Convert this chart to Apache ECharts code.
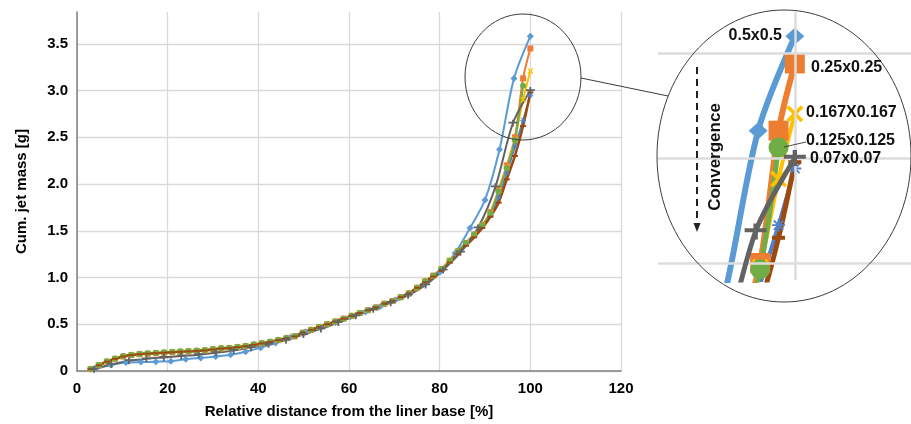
<!DOCTYPE html>
<html><head><meta charset="utf-8">
<script src="https://cdn.jsdelivr.net/npm/echarts@6/dist/echarts.min.js"></script>
<style>html,body{margin:0;padding:0;background:#fff}#c{width:911px;height:424px}</style>
</head><body><div id="c"></div>
<script>
// ---- data ----
const xFine = [3.0,4.8,6.6,8.4,10.2,12.0,13.8,15.6,17.4,19.2,21.0,22.8,24.6,26.4,28.2,30.0,31.8,33.6,35.4,37.2,39.0,40.8,42.6,44.4,46.2,48.0,49.8,51.6,53.4,55.2,57.0,58.8,60.6,62.4,64.2,66.0,67.8,69.6,71.4,73.2,75.0,76.8,78.6,80.4,82.2,84.0,85.8,87.6,89.4,91.2,93.0,94.8,96.6,98.4,100.0];
const xCoarse = [4.2,7.5,10.8,14.1,17.4,20.7,24.0,27.3,30.6,33.9,37.2,40.5,43.8,47.1,50.4,53.7,57.0,60.3,63.6,66.9,70.2,73.5,76.8,80.1,83.4,86.7,90.0,93.2,96.4,100.0];
const xGrey = [3.75,7.6,11.45,15.3,19.15,23.0,26.85,30.7,34.55,38.4,42.25,46.1,49.95,53.8,57.65,61.5,65.35,69.2,73.05,76.9,80.75,84.6,88.45,92.3,96.15,100.0];

const mesh05 = [0.03,0.065,0.09,0.095,0.10,0.105,0.125,0.14,0.155,0.175,0.205,0.25,0.30,0.36,0.42,0.47,0.52,0.58,0.63,0.69,0.76,0.83,0.93,1.06,1.26,1.53,1.83,2.37,3.13,3.58];
const mesh025 = [0.02,0.06,0.10,0.13,0.155,0.17,0.18,0.185,0.19,0.195,0.20,0.205,0.21,0.215,0.22,0.23,0.24,0.245,0.255,0.265,0.28,0.295,0.31,0.33,0.35,0.37,0.41,0.44,0.47,0.50,0.53,0.56,0.59,0.62,0.65,0.68,0.72,0.75,0.79,0.83,0.89,0.96,1.02,1.09,1.18,1.28,1.37,1.46,1.56,1.70,1.94,2.20,2.50,3.13,3.45];
const mesh0167 = [0.02,0.06,0.10,0.13,0.15,0.17,0.18,0.185,0.19,0.195,0.20,0.205,0.21,0.215,0.22,0.23,0.24,0.245,0.255,0.265,0.28,0.295,0.31,0.33,0.35,0.37,0.41,0.44,0.47,0.50,0.53,0.56,0.59,0.62,0.65,0.68,0.72,0.75,0.79,0.83,0.89,0.96,1.02,1.09,1.18,1.28,1.37,1.46,1.56,1.69,1.93,2.18,2.48,2.90,3.21];
const meshStar = [0.02,0.06,0.10,0.13,0.155,0.17,0.18,0.185,0.19,0.195,0.20,0.205,0.21,0.215,0.22,0.23,0.24,0.245,0.255,0.265,0.28,0.295,0.31,0.33,0.35,0.37,0.41,0.44,0.47,0.50,0.53,0.56,0.59,0.62,0.65,0.68,0.72,0.75,0.79,0.83,0.89,0.96,1.02,1.09,1.17,1.27,1.36,1.45,1.55,1.66,1.86,2.12,2.40,2.68,2.95];
const mesh0125 = [0.025,0.065,0.105,0.135,0.16,0.175,0.185,0.19,0.195,0.20,0.205,0.21,0.215,0.22,0.225,0.235,0.245,0.25,0.26,0.27,0.285,0.30,0.315,0.335,0.355,0.375,0.41,0.44,0.47,0.50,0.53,0.56,0.59,0.62,0.65,0.68,0.72,0.75,0.79,0.83,0.89,0.96,1.02,1.09,1.18,1.28,1.37,1.46,1.56,1.69,1.92,2.17,2.47,3.05];
const meshBrown = [0.02,0.06,0.10,0.13,0.155,0.17,0.18,0.185,0.19,0.195,0.20,0.205,0.21,0.215,0.22,0.23,0.24,0.245,0.255,0.265,0.28,0.295,0.31,0.33,0.35,0.37,0.41,0.44,0.47,0.50,0.53,0.56,0.59,0.62,0.65,0.68,0.72,0.75,0.79,0.83,0.89,0.95,1.01,1.07,1.16,1.25,1.34,1.43,1.53,1.65,1.80,2.05,2.30,2.62,2.98];
const mesh007 = [0.02,0.07,0.11,0.13,0.145,0.16,0.175,0.195,0.22,0.25,0.285,0.33,0.39,0.45,0.52,0.59,0.66,0.73,0.81,0.92,1.08,1.27,1.53,1.97,2.65,3.00];

const seriesNames = ['0.5x0.5','0.25x0.25','0.167X0.167','mesh (star)','0.125x0.125','mesh (dash)','0.07x0.07'];
const seriesColors = ['#5B9BD5','#ED7D31','#FFC000','#4F81C9','#70AD47','#9E480E','#636363'];

// ---- styles ----
const FONT = 'Liberation Sans, Arial, sans-serif';
const P_X = 'path://M0,1.5L1.5,0L5,3.5L8.5,0L10,1.5L6.5,5L10,8.5L8.5,10L5,6.5L1.5,10L0,8.5L3.5,5Z';
const P_PLUS = 'path://M0,3H4V0H6V3H10V5.5H6V10H4V5.5H0Z';
const P_STAR = 'path://M4.3,0H5.7V3.3L8.1,0.9L9.1,1.9L6.7,4.3H10V5.7H6.7L9.1,8.1L8.1,9.1L5.7,6.7V10H4.3V6.7L1.9,9.1L0.9,8.1L3.3,5.7H0V4.3H3.3L0.9,1.9L1.9,0.9L4.3,3.3Z';

const seriesDefs = [
  {x: xCoarse, y: mesh05,   sym: 'diamond', s: 7,      S: [19,17], lw: 2,   LW: 6},
  {x: xFine,   y: mesh025,  sym: 'rect',    s: 6,      S: 20,      lw: 2,   LW: 6},
  {x: xFine,   y: mesh0167, sym: P_X,       s: 6,      S: 17,      lw: 2,   LW: 4},
  {x: xFine,   y: meshStar, sym: P_STAR,    s: 6,      S: 13,      lw: 2,   LW: 4},
  {x: xFine,   y: mesh0125, sym: 'circle',  s: 6,      S: 20,      lw: 2,   LW: 5},
  {x: xFine,   y: meshBrown,sym: 'rect',    s: [6,2],  S: [13,4],  lw: 2.5, LW: 5},
  {x: xGrey,   y: mesh007,  sym: P_PLUS,    s: [9,7],  S: [22,16], lw: 2,   LW: 5}
];

const series = [];
seriesDefs.forEach((d, i) => {
  const data = d.y.map((v, k) => [d.x[k], v]);
  series.push({
    name: seriesNames[i], type: 'line', data: data, smooth: 0.3,
    symbol: d.sym, symbolSize: d.s, showAllSymbol: true,
    lineStyle: {color: seriesColors[i], width: d.lw},
    itemStyle: {color: seriesColors[i], borderWidth: 0},
    xAxisIndex: 0, yAxisIndex: 0, z: 3
  });
});
// inset gridlines
series.push({
  type: 'line', xAxisIndex: 1, yAxisIndex: 1, data: [[100, 3.0]], symbol: 'none',
  lineStyle: {opacity: 0}, z: 1, silent: true,
  markLine: {silent: true, symbol: 'none', label: {show: false}, animation: false,
    lineStyle: {color: '#dcdcdc', width: 2.5, type: 'solid'},
    data: [{xAxis: 100}, {yAxis: 2.5}, {yAxis: 3.0}, {yAxis: 3.5}]}
});
seriesDefs.forEach((d, i) => {
  const data = d.y.map((v, k) => [d.x[k], v]);
  series.push({
    name: seriesNames[i] + ' (zoom)', type: 'line', data: data, smooth: 0.3, clip: true,
    symbol: d.sym, symbolSize: d.S, showAllSymbol: true,
    lineStyle: {color: seriesColors[i], width: d.LW},
    itemStyle: {color: seriesColors[i], borderWidth: 0},
    xAxisIndex: 1, yAxisIndex: 1, z: i === 6 ? 5 : 3
  });
});

const lbl = (t, x, y, align) => ({type: 'text', x: x, y: y, z: 20,
  style: {text: t, fill: '#111', font: 'bold 16px ' + FONT, textAlign: align || 'left', textVerticalAlign: 'middle'}});

const option = {
  animation: false,
  backgroundColor: '#fff',
  grid: [
    {left: 77, top: 12, width: 544, height: 359},
    {left: 658, top: 12, width: 253, height: 268}
  ],
  xAxis: [
    {type: 'value', gridIndex: 0, min: 0, max: 120, interval: 20,
     name: 'Relative distance from the liner base [%]', nameLocation: 'middle', nameGap: 33,
     nameTextStyle: {fontFamily: FONT, fontWeight: 'bold', fontSize: 15, color: '#000'},
     axisLine: {show: true, lineStyle: {color: '#808080', width: 1.5}},
     axisTick: {show: false},
     axisLabel: {fontFamily: FONT, fontWeight: 'bold', fontSize: 15, color: '#000', margin: 10},
     splitLine: {show: true, lineStyle: {color: '#d9d9d9', width: 1.3}}},
    {type: 'value', gridIndex: 1, min: 86.57, max: 111.4, show: false, splitLine: {show: false}}
  ],
  yAxis: [
    {type: 'value', gridIndex: 0, min: 0, max: 3.84, interval: 0.5,
     name: 'Cum. jet mass [g]', nameLocation: 'middle', nameGap: 48,
     nameTextStyle: {fontFamily: FONT, fontWeight: 'bold', fontSize: 15, color: '#000'},
     axisLine: {show: true, lineStyle: {color: '#808080', width: 1.5}},
     axisTick: {show: false},
     axisLabel: {fontFamily: FONT, fontWeight: 'bold', fontSize: 15, color: '#000', margin: 9, showMaxLabel: false,
       formatter: v => v === 0 ? '0' : v.toFixed(1)},
     splitLine: {show: true, showMaxLine: false, lineStyle: {color: '#d9d9d9', width: 1.3}}},
    {type: 'value', gridIndex: 1, min: 2.419, max: 3.695, show: false, splitLine: {show: false}}
  ],
  series: series,
  graphic: [
    {type: 'ellipse', z: 15, shape: {cx: 523, cy: 77, rx: 58, ry: 63}, style: {fill: null, stroke: '#3c3c3c', lineWidth: 1}},
    {type: 'line', z: 15, shape: {x1: 581, y1: 78, x2: 668, y2: 96}, style: {stroke: '#3c3c3c', lineWidth: 1}},
    {type: 'ellipse', z: 15, shape: {cx: 784, cy: 156, rx: 127, ry: 146}, style: {fill: null, stroke: '#3c3c3c', lineWidth: 1}},
    {type: 'line', z: 15, shape: {x1: 697, y1: 67, x2: 697, y2: 225}, style: {stroke: '#222', lineWidth: 2, lineDash: [7, 5]}},
    {type: 'polygon', z: 15, shape: {points: [[693.5, 223], [700.5, 223], [697, 232]]}, style: {fill: '#222'}},
    {type: 'text', z: 20, x: 715, y: 157, rotation: Math.PI / 2,
     style: {text: 'Convergence', fill: '#111', font: 'bold 17px ' + FONT, textAlign: 'center', textVerticalAlign: 'middle'}},
    lbl('0.5x0.5', 782, 36, 'right'),
    lbl('0.25x0.25', 811, 68),
    lbl('0.167X0.167', 806, 113),
    lbl('0.125x0.125', 806, 141),
    lbl('0.07x0.07', 810, 159),
    {type: 'line', z: 20, shape: {x1: 784, y1: 147, x2: 806, y2: 142}, style: {stroke: '#222', lineWidth: 0.8}}
  ]
};
const chart = echarts.init(document.getElementById('c'), null, {renderer: 'canvas'});
chart.setOption(option);
</script></body></html>
